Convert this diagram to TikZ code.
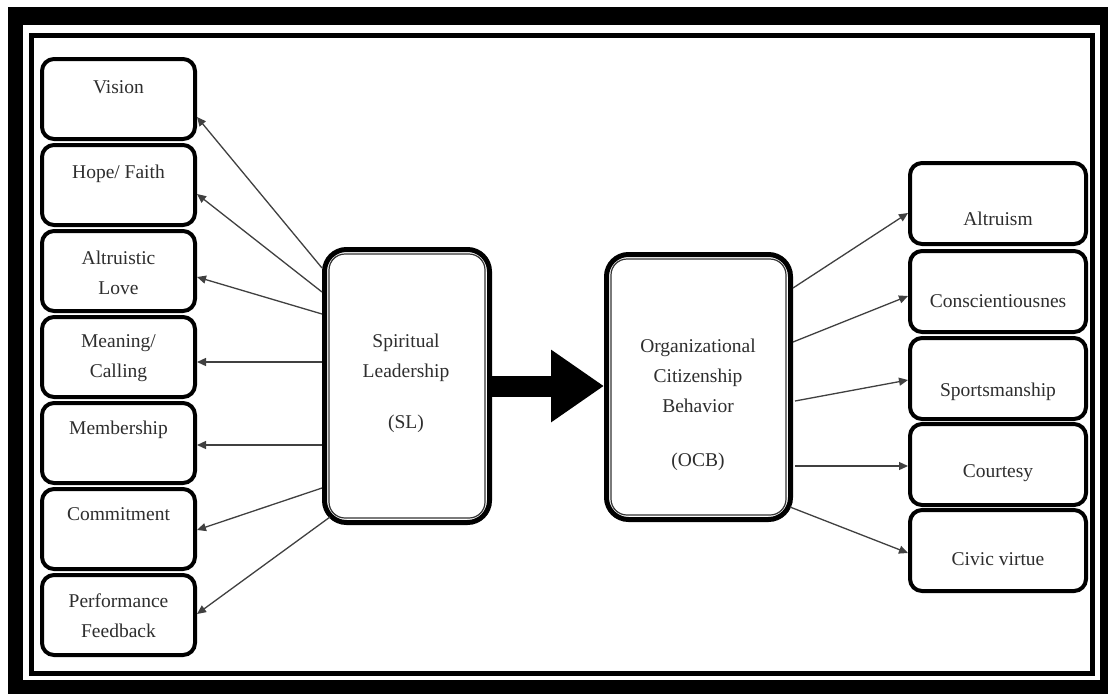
\documentclass[tikz,border=0pt]{standalone}
\usepackage{fontspec}
\setmainfont{Liberation Serif}
\usetikzlibrary{arrows.meta}
\begin{document}
\begin{tikzpicture}[x=1pt,y=-1pt,
  lbox/.style={draw=black,line width=4pt,rounded corners=12pt,minimum width=153pt,minimum height=80pt,inner sep=0pt},
  rbox/.style={lbox,minimum width=176pt,minimum height=81pt},
  cbox/.style={draw=black,line width=5pt,rounded corners=22pt,inner sep=0pt},
  txt/.style={font=\fontsize{19.5}{30}\selectfont,text=black!82,anchor=north,align=center,inner sep=0pt},
  arr/.style={draw=black!75,line width=1.3pt,-{Triangle[length=9pt,width=8pt]}},
  bigarr/.style={draw=black,line width=21pt,-{Triangle[length=53pt,width=69pt]}},
  inner/.style={draw=black!80,line width=1.2pt,rounded corners=16pt}
]
\useasboundingbox (0,0) rectangle (1108,694);
\fill[white] (0,0) rectangle (1108,694);
% frame
\fill[black] (8,7) rectangle (1108,694);
\fill[white] (23,25) rectangle (1100,680);
\draw[line width=5pt] (31.5,35.5) rectangle (1092.5,673.5);

% left boxes
\node[lbox] (vis) at (118.5,99) {};
\node[lbox] (hope) at (118.5,185) {};
\node[lbox] (alt) at (118.5,271) {};
\node[lbox] (mean) at (118.5,357) {};
\node[lbox] (memb) at (118.5,443) {};
\node[lbox] (comm) at (118.5,529) {};
\node[lbox] (perf) at (118.5,615) {};
\node[txt] (visT) at (118.5,72) {\strut Vision};
\node[txt] (hopeT) at (118.5,157) {\strut Hope/ Faith};
\node[txt] (altT) at (118.5,243) {\strut Altruistic\\Love};
\node[txt] (meanT) at (118.5,326) {\strut Meaning/\\Calling};
\node[txt] (membT) at (118.5,413) {\strut Membership};
\node[txt] (commT) at (118.5,499) {\strut Commitment};
\node[txt] (perfT) at (118.5,586) {\strut Performance\\Feedback};

% right boxes
\node[rbox] (altr) at (998,203.5) {};
\node[rbox] (cons) at (998,291.5) {};
\node[rbox] (spor) at (998,378.5) {};
\node[rbox] (cour) at (998,464.5) {};
\node[rbox] (civ) at (998,550.5) {};
\node[txt] (altrT) at (998,204) {\strut Altruism};
\node[txt] (consT) at (998,286) {\strut Conscientiousnes};
\node[txt] (sporT) at (998,375) {\strut Sportsmanship};
\node[txt] (courT) at (998,456) {\strut Courtesy};
\node[txt] (civT) at (998,544) {\strut Civic virtue};

% central boxes
\node[cbox,minimum width=165pt,minimum height=273pt] (sl) at (407,386) {};
\draw[inner] ([shift={(7,7)}]sl.north west) rectangle ([shift={(-7,-7)}]sl.south east);
\node[txt] (slT) at (406,326) {\strut Spiritual\\Leadership\\[21pt](SL)};

\node[cbox,minimum width=184pt,minimum height=265pt] (ocb) at (698.5,387) {};
\draw[inner] ([shift={(7,7)}]ocb.north west) rectangle ([shift={(-7,-7)}]ocb.south east);
\node[txt] (ocbT) at (698,331) {\strut Organizational\\Citizenship\\Behavior\\[24pt](OCB)};

% big arrow
\draw[bigarr] (sl.east) -- (ocb.west |- sl.east);

% left connectors
\draw[arr] ([yshift=118pt]sl.west) -- ([yshift=-18pt]vis.east);
\draw[arr] ([yshift=94pt]sl.west) -- ([yshift=-9pt]hope.east);
\draw[arr] ([yshift=72pt]sl.west) -- ([yshift=-6pt]alt.east);
\draw[arr] ([yshift=24pt]sl.west) -- ([yshift=-5pt]mean.east);
\draw[arr] ([yshift=-59pt]sl.west) -- ([yshift=-2pt]memb.east);
\draw[arr] ([yshift=-102pt]sl.west) -- ([yshift=-1pt]comm.east);
\draw[arr] ([shift={(8,-8)}]sl.south west) -- ([yshift=1pt]perf.east);

% right connectors
\draw[arr] ([yshift=99pt]ocb.east) -- ([yshift=-9.5pt]altr.west);
\draw[arr] ([yshift=45pt]ocb.east) -- ([yshift=-4.5pt]cons.west);
\draw[arr] ([xshift=2pt,yshift=-14pt]ocb.east) -- ([yshift=-1.5pt]spor.west);
\draw[arr] ([xshift=2pt,yshift=-79pt]ocb.east) -- ([yshift=-1.5pt]cour.west);
\draw[arr] ([shift={(-3,-15)}]ocb.south east) -- ([yshift=-2.5pt]civ.west);
\end{tikzpicture}
\end{document}
